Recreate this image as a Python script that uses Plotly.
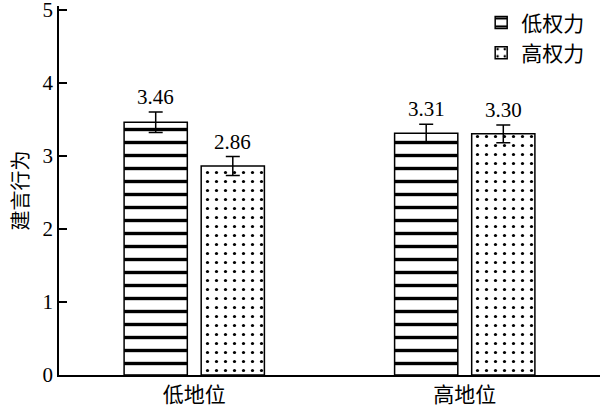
import plotly.graph_objects as go

categories = ["低地位", "高地位"]
series_names = ["低权力", "高权力"]
low_power = [3.46, 3.31]
high_power = [2.86, 3.30]
low_power_err = [0.14, 0.12]
high_power_err = [0.13, 0.12]
y_ticks = [0, 1, 2, 3, 4, 5]

SERIF = "Liberation Serif, Times New Roman, Noto Sans CJK SC"
BAR_SHIFT = 38.5  # pixels from category centre to bar centre

fig = go.Figure()
patterns = ["-", "."]
sizes = [13, 9]
solid = [0.26, 0.1]
for i, (name, vals, errs) in enumerate(
    [(series_names[0], low_power, low_power_err), (series_names[1], high_power, high_power_err)]
):
    fig.add_trace(go.Bar(
        name=name, x=categories, y=vals,
        marker=dict(color="white", line=dict(color="black", width=1.5),
                    pattern=dict(shape=patterns[i], fgcolor="black", bgcolor="white",
                                 fgopacity=1, size=sizes[i], solidity=solid[i],
                                 fillmode="replace")),
        error_y=dict(type="data", array=errs, color="black", thickness=1.5, width=7),
    ))
    for c, v, e in zip(categories, vals, errs):
        fig.add_annotation(x=c, y=v + e, text=f"{v:.2f}", showarrow=False,
                           yanchor="bottom", yshift=1,
                           xshift=(-BAR_SHIFT if i == 0 else BAR_SHIFT),
                           font=dict(family=SERIF, size=21, color="black"))

fig.update_layout(
    width=600, height=412,
    margin=dict(l=59, r=0, t=6, b=37, autoexpand=False),
    paper_bgcolor="white", plot_bgcolor="white",
    barmode="group", bargap=0.43, bargroupgap=0.18,
    font=dict(family=SERIF, size=20, color="black"),
    showlegend=True,
    legend=dict(x=0.98, y=1.01, xanchor="right", yanchor="top",
                bgcolor="rgba(0,0,0,0)", font=dict(size=21),
                itemwidth=30, tracegroupgap=0),
)
fig.update_xaxes(showline=True, linecolor="black", linewidth=1.5, ticks="",
                 tickfont=dict(size=21), showgrid=False, automargin=False)
fig.update_yaxes(range=[0, 5.05], tickmode="linear", tick0=y_ticks[0], dtick=1,
                 showline=True, linecolor="black", ticklabeloverflow="allow",
                 linewidth=1.5, ticks="inside", ticklen=8, tickwidth=1.5,
                 tickcolor="black", showgrid=False, zeroline=False, automargin=False,
                 title=dict(text="建言行为", font=dict(size=20), standoff=9),
                 tickfont=dict(size=21))

fig.write_html("out.html", config={"displayModeBar": False},
               post_script="document.body.style.margin='0';document.body.style.padding='0';")
